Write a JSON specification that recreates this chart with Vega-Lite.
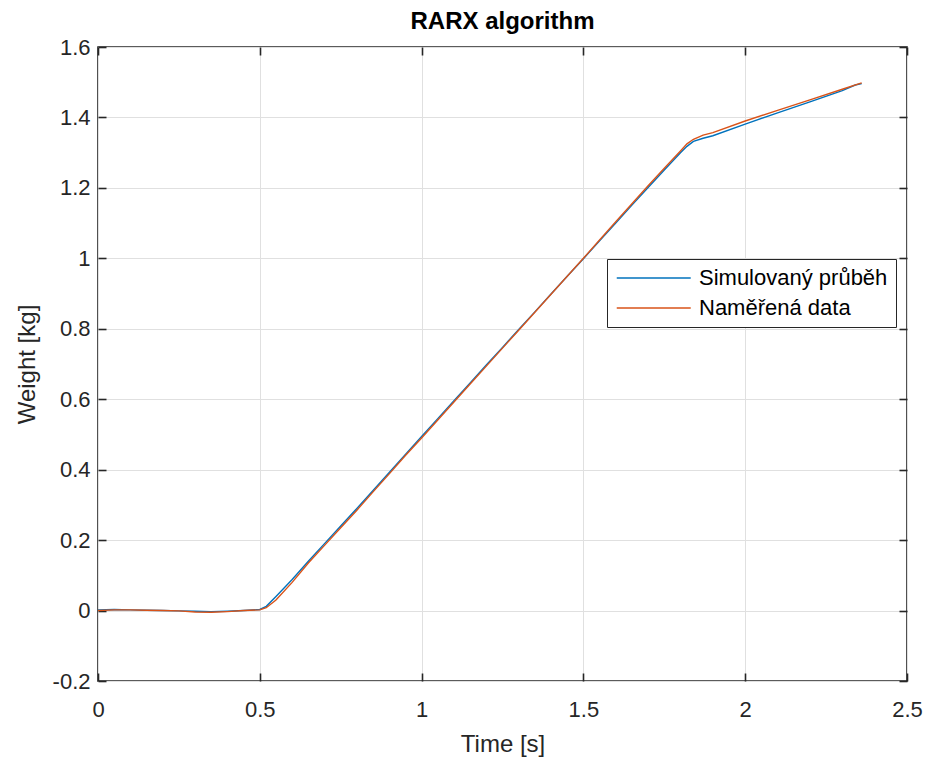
{
  "$schema": "https://vega.github.io/schema/vega-lite/v6.json",
  "autosize": {"type": "none"},
  "padding": {"left": 98, "top": 47, "right": 20, "bottom": 81},
  "width": 809,
  "height": 634,
  "background": "white",
  "config": {
    "font": "Liberation Sans",
    "view": {"stroke": "#262626", "strokeWidth": 1.6},
    "axis": {"domain": false, "labelFont": "Liberation Sans", "titleFont": "Liberation Sans", "labelColor": "#262626", "titleColor": "#262626", "tickColor": "#262626", "tickWidth": 1.6, "gridColor": "#e0e0e0", "gridWidth": 1, "labelFontSize": 22, "titleFontSize": 24, "titleFontWeight": "normal"}
  },
  "title": {"text": "RARX algorithm", "fontSize": 24, "fontWeight": "bold", "font": "Liberation Sans", "color": "black", "offset": 2},
  "data": {"values": [
    {"t":0,"w":0.002,"s":"Simulovaný průběh"},{"t":0.05,"w":0.003,"s":"Simulovaný průběh"},{"t":0.1,"w":0.002,"s":"Simulovaný průběh"},{"t":0.15,"w":0.001,"s":"Simulovaný průběh"},{"t":0.2,"w":0.0,"s":"Simulovaný průběh"},{"t":0.25,"w":-0.001,"s":"Simulovaný průběh"},{"t":0.3,"w":-0.002,"s":"Simulovaný průběh"},{"t":0.35,"w":-0.003,"s":"Simulovaný průběh"},{"t":0.4,"w":-0.002,"s":"Simulovaný průběh"},{"t":0.45,"w":0.0,"s":"Simulovaný průběh"},{"t":0.5,"w":0.003,"s":"Simulovaný průběh"},{"t":0.52,"w":0.012,"s":"Simulovaný průběh"},{"t":0.55,"w":0.04,"s":"Simulovaný průběh"},{"t":0.6,"w":0.088,"s":"Simulovaný průběh"},{"t":0.65,"w":0.14,"s":"Simulovaný průběh"},{"t":0.7,"w":0.19,"s":"Simulovaný průběh"},{"t":0.75,"w":0.24,"s":"Simulovaný průběh"},{"t":0.8,"w":0.29,"s":"Simulovaný průběh"},{"t":0.85,"w":0.341,"s":"Simulovaný průběh"},{"t":0.9,"w":0.392,"s":"Simulovaný průběh"},{"t":0.95,"w":0.443,"s":"Simulovaný průběh"},{"t":1.0,"w":0.494,"s":"Simulovaný průběh"},{"t":1.05,"w":0.545,"s":"Simulovaný průběh"},{"t":1.1,"w":0.596,"s":"Simulovaný průběh"},{"t":1.15,"w":0.646,"s":"Simulovaný průběh"},{"t":1.2,"w":0.697,"s":"Simulovaný průběh"},{"t":1.25,"w":0.747,"s":"Simulovaný průběh"},{"t":1.3,"w":0.798,"s":"Simulovaný průběh"},{"t":1.35,"w":0.848,"s":"Simulovaný průběh"},{"t":1.4,"w":0.899,"s":"Simulovaný průběh"},{"t":1.45,"w":0.949,"s":"Simulovaný průběh"},{"t":1.5,"w":0.999,"s":"Simulovaný průběh"},{"t":1.55,"w":1.05,"s":"Simulovaný průběh"},{"t":1.6,"w":1.1,"s":"Simulovaný průběh"},{"t":1.65,"w":1.151,"s":"Simulovaný průběh"},{"t":1.7,"w":1.201,"s":"Simulovaný průběh"},{"t":1.75,"w":1.251,"s":"Simulovaný průběh"},{"t":1.8,"w":1.3,"s":"Simulovaný průběh"},{"t":1.82,"w":1.318,"s":"Simulovaný průběh"},{"t":1.84,"w":1.332,"s":"Simulovaný průběh"},{"t":1.87,"w":1.341,"s":"Simulovaný průběh"},{"t":1.9,"w":1.348,"s":"Simulovaný průběh"},{"t":2.0,"w":1.381,"s":"Simulovaný průběh"},{"t":2.1,"w":1.413,"s":"Simulovaný průběh"},{"t":2.2,"w":1.444,"s":"Simulovaný průběh"},{"t":2.3,"w":1.476,"s":"Simulovaný průběh"},{"t":2.34,"w":1.492,"s":"Simulovaný průběh"},{"t":2.36,"w":1.496,"s":"Simulovaný průběh"},
    {"t":0,"w":0.0,"s":"Naměřená data"},{"t":0.05,"w":0.002,"s":"Naměřená data"},{"t":0.1,"w":0.002,"s":"Naměřená data"},{"t":0.15,"w":0.001,"s":"Naměřená data"},{"t":0.2,"w":0.0,"s":"Naměřená data"},{"t":0.25,"w":-0.001,"s":"Naměřená data"},{"t":0.3,"w":-0.004,"s":"Naměřená data"},{"t":0.35,"w":-0.005,"s":"Naměřená data"},{"t":0.4,"w":-0.003,"s":"Naměřená data"},{"t":0.45,"w":0.0,"s":"Naměřená data"},{"t":0.5,"w":0.002,"s":"Naměřená data"},{"t":0.52,"w":0.008,"s":"Naměřená data"},{"t":0.55,"w":0.03,"s":"Naměřená data"},{"t":0.6,"w":0.08,"s":"Naměřená data"},{"t":0.65,"w":0.135,"s":"Naměřená data"},{"t":0.7,"w":0.185,"s":"Naměřená data"},{"t":0.75,"w":0.235,"s":"Naměřená data"},{"t":0.8,"w":0.285,"s":"Naměřená data"},{"t":0.85,"w":0.337,"s":"Naměřená data"},{"t":0.9,"w":0.388,"s":"Naměřená data"},{"t":0.95,"w":0.44,"s":"Naměřená data"},{"t":1.0,"w":0.49,"s":"Naměřená data"},{"t":1.05,"w":0.541,"s":"Naměřená data"},{"t":1.1,"w":0.592,"s":"Naměřená data"},{"t":1.15,"w":0.643,"s":"Naměřená data"},{"t":1.2,"w":0.694,"s":"Naměřená data"},{"t":1.25,"w":0.745,"s":"Naměřená data"},{"t":1.3,"w":0.796,"s":"Naměřená data"},{"t":1.35,"w":0.847,"s":"Naměřená data"},{"t":1.4,"w":0.898,"s":"Naměřená data"},{"t":1.45,"w":0.949,"s":"Naměřená data"},{"t":1.5,"w":1.0,"s":"Naměřená data"},{"t":1.55,"w":1.052,"s":"Naměřená data"},{"t":1.6,"w":1.104,"s":"Naměřená data"},{"t":1.65,"w":1.155,"s":"Naměřená data"},{"t":1.7,"w":1.206,"s":"Naměřená data"},{"t":1.75,"w":1.256,"s":"Naměřená data"},{"t":1.8,"w":1.305,"s":"Naměřená data"},{"t":1.82,"w":1.325,"s":"Naměřená data"},{"t":1.84,"w":1.338,"s":"Naměřená data"},{"t":1.87,"w":1.35,"s":"Naměřená data"},{"t":1.9,"w":1.357,"s":"Naměřená data"},{"t":2.0,"w":1.39,"s":"Naměřená data"},{"t":2.1,"w":1.42,"s":"Naměřená data"},{"t":2.2,"w":1.45,"s":"Naměřená data"},{"t":2.3,"w":1.48,"s":"Naměřená data"},{"t":2.36,"w":1.498,"s":"Naměřená data"}
  ]},
  "resolve": {"axis": {"x": "independent", "y": "independent"}},
  "layer": [
    {
      "mark": {"type": "line", "strokeWidth": 1.4},
      "encoding": {
        "x": {"field": "t", "type": "quantitative", "scale": {"domain": [0, 2.5], "nice": false, "zero": false},
              "axis": {"orient": "bottom", "title": "Time [s]", "values": [0, 0.5, 1, 1.5, 2, 2.5], "tickSize": -8, "labelPadding": 26, "titlePadding": 12, "labelExpr": "'' + datum.value", "labelFlush": false}},
        "y": {"field": "w", "type": "quantitative", "scale": {"domain": [-0.2, 1.6], "nice": false, "zero": false},
              "axis": {"orient": "left", "title": "Weight [kg]", "values": [-0.2, 0, 0.2, 0.4, 0.6, 0.8, 1, 1.2, 1.4, 1.6], "tickSize": -8, "labelPadding": 16, "titlePadding": 13, "labelExpr": "'' + datum.value", "labelFlush": false}},
        "color": {"field": "s", "type": "nominal", "sort": ["Simulovaný průběh", "Naměřená data"],
                  "scale": {"domain": ["Simulovaný průběh", "Naměřená data"], "range": ["#0072BD", "#D95319"]},
                  "legend": {"orient": "none", "legendX": 509, "legendY": 212, "title": null, "strokeColor": "#262626", "fillColor": "white", "padding": 8, "symbolType": "M-1,0H7", "symbolSize": 342, "symbolStrokeWidth": 1.3, "labelFontSize": 22, "labelFont": "Liberation Sans", "labelColor": "black", "labelLimit": 0, "rowPadding": 8, "labelOffset": 62, "cornerRadius": 0}}
      }
    },
    {
      "mark": {"type": "point", "opacity": 0},
      "encoding": {
        "x": {"field": "t", "type": "quantitative", "scale": {"domain": [0, 2.5], "nice": false, "zero": false},
              "axis": {"orient": "top", "title": null, "labels": false, "grid": false, "values": [0, 0.5, 1, 1.5, 2, 2.5], "tickSize": -8}},
        "y": {"field": "w", "type": "quantitative", "scale": {"domain": [-0.2, 1.6], "nice": false, "zero": false},
              "axis": {"orient": "right", "title": null, "labels": false, "grid": false, "values": [-0.2, 0, 0.2, 0.4, 0.6, 0.8, 1, 1.2, 1.4, 1.6], "tickSize": -8}}
      }
    }
  ]
}
